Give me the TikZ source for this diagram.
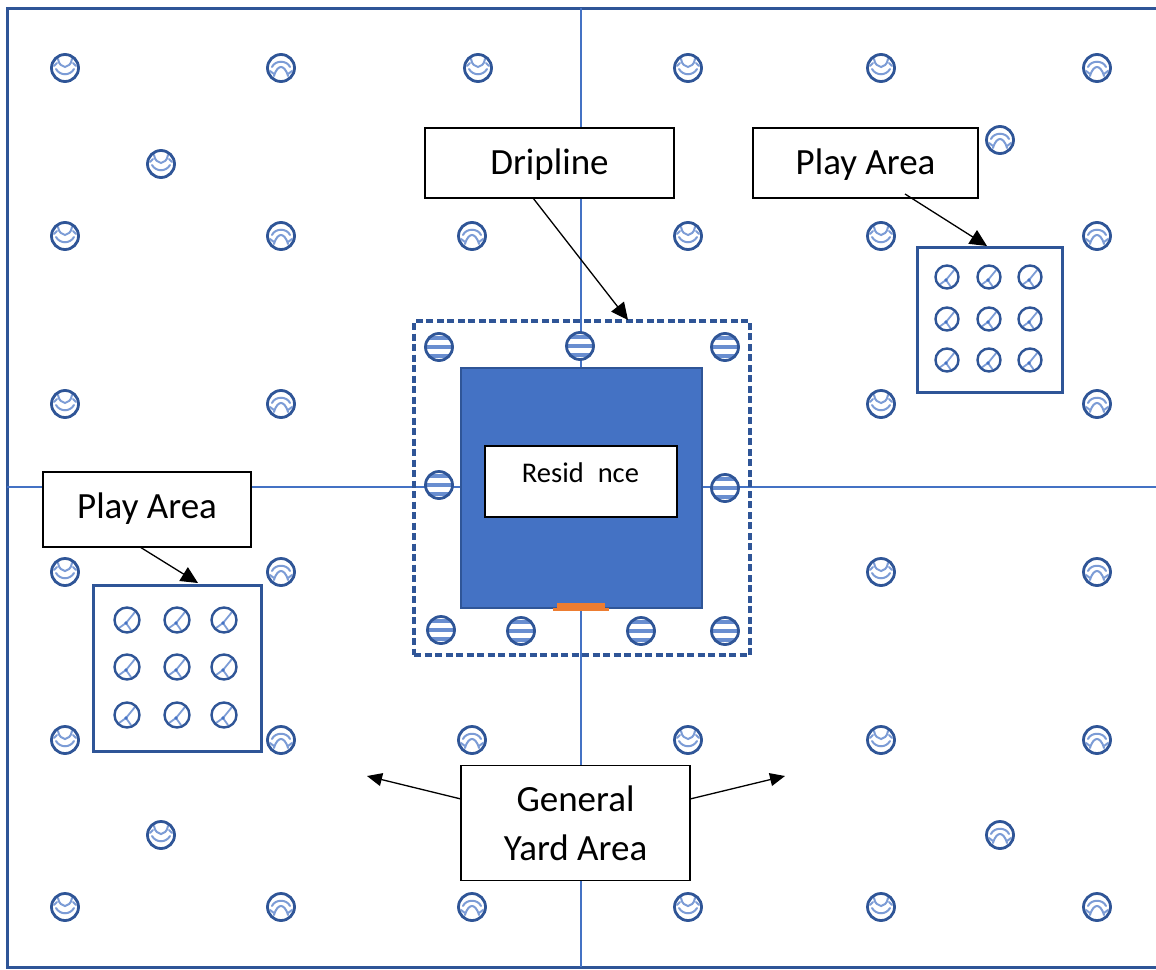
\documentclass[tikz,border=0pt]{standalone}
\usepackage{fontspec}
\setmainfont{Carlito}
\usetikzlibrary{arrows.meta}
\definecolor{darkblue}{HTML}{2F5597}
\definecolor{midblue}{HTML}{4472C4}
\definecolor{doororange}{HTML}{ED7D31}
\tikzset{
  x=1pt,y=-1pt,
  every node/.style={outer sep=0pt},
  treebase/.style={circle,draw=darkblue,line width=2.8pt,fill=white,minimum size=27pt,inner sep=0pt},
  marks/.style={draw=midblue!70,line width=2pt,line cap=round},
  treesmile/.style={treebase,path picture={
    \draw[marks,shift={(path picture bounding box.center)}]
      (-7,-9) .. controls (-6,-3) and (-3,-2) .. (0,-1) .. controls (3,-2) and (6,-3) .. (7,-9)
      (-9,1) .. controls (-5,8) and (5,8) .. (9,1)
      (-11,-2) -- (-8,-5) (11,-2) -- (8,-5);
  }},
  treefrown/.style={treebase,path picture={
    \draw[marks,shift={(path picture bounding box.center)}]
      (-9,-1) .. controls (-6,-8) and (6,-8) .. (9,-1)
      (-7,8) .. controls (-5,1) and (-2,-1) .. (0,-1) .. controls (2,-1) and (5,1) .. (7,8)
      (-11,3) -- (-7,6) (11,3) -- (7,6);
  }},
  treeforked/.style={circle,draw=darkblue,line width=2.4pt,fill=white,minimum size=23pt,inner sep=0pt,path picture={
    \draw[marks,line width=1.8pt,shift={(path picture bounding box.center)}]
      (8,-8) -- (-1,3) -- (-8,8) (-1,3) -- (4,10);
    \fill[midblue,shift={(path picture bounding box.center)}] (-1,3) circle (1.8);
  }},
  treestriped/.style={treebase,path picture={
    \draw[midblue!80,line width=4.6pt,shift={(path picture bounding box.center)}]
      (-14,-9) -- (14,-9) (-14,0) -- (14,0) (-14,9) -- (14,9);
  }},
  labelbox/.style={draw=black,line width=1.8pt,fill=white,text=black,inner sep=0pt,font=\fontsize{37}{49}\selectfont,align=center},
  callout/.style={black,line width=1.3pt,-{Triangle[length=17pt,width=16pt]}},
  yardout/.style={black,line width=1.3pt,-{Triangle[length=15pt,width=13pt]}},
  zone/.style={draw=darkblue,line width=3pt,fill=white}
}
\begin{document}
\begin{tikzpicture}
\clip (0,0) rectangle (1156,969);
\fill[white] (0,0) rectangle (1156,969);
% frame and axes
\node[draw=darkblue,line width=3pt,minimum width=1170pt,minimum height=959pt,inner sep=0pt,anchor=north west] (frame) at (7,8) {};
\coordinate (axisT) at (581,8);
\coordinate (axisB) at (581,967);
\coordinate (axisL) at (7,487);
\coordinate (axisR) at (1156,487);
\draw[midblue,line width=1.6pt] (axisT) -- (axisB);
\draw[midblue,line width=1.6pt] (axisL) -- (axisR);
% general trees
\foreach \x/\y [count=\i] in {65/68,478/68,688/68,881/68,161/164,65/236,688/236,881/236,65/404,881/404,65/572,881/572,65/740,688/740,881/740,161/835,65/907,688/907,881/907}
  \node[treesmile] (smile\i) at (\x,\y) {};
\foreach \x/\y [count=\i] in {281/68,1097/68,1000/140,281/236,472/236,1097/236,281/404,1097/404,281/572,1097/572,281/740,472/740,1097/740,1000/835,281/907,472/907,1097/907}
  \node[treefrown] (frown\i) at (\x,\y) {};
% dripline zone
\node[draw=darkblue,line width=3.2pt,dash pattern=on 7pt off 3.5pt,minimum width=336pt,minimum height=334pt,inner sep=0pt,anchor=north west] (dripzone) at (414,321) {};
\node[draw=darkblue,line width=2.5pt,fill=midblue,minimum width=241pt,minimum height=240pt,inner sep=0pt,anchor=north west] (house) at (461,368) {};
\node[draw=black,line width=1.6pt,fill=white,minimum width=192pt,minimum height=71pt,inner sep=0pt,anchor=north west] (residencebox) at (485,446) {};
\node[text=black,inner sep=0pt,font=\fontsize{28.5}{30}\selectfont] (residence) at (580.5,472.5) {Resid\hspace{14pt}nce};
\fill[doororange] (553,608) rectangle (609,611);
\node[fill=doororange,minimum width=48pt,minimum height=8pt,inner sep=0pt,anchor=north west] (door) at (557,603) {};
\foreach \x/\y [count=\i] in {439/347,580/346,725/347,439/485,725/488,441/630,521/631,641/631,725/631}
  \node[treestriped] (drip\i) at (\x,\y) {};
% play areas
\node[zone,minimum width=145pt,minimum height=145pt,inner sep=0pt,anchor=north west] (playR) at (917,247) {};
\node[zone,minimum width=168pt,minimum height=166pt,inner sep=0pt,anchor=north west] (playL) at (93,585) {};
\foreach \x/\y [count=\i] in {947/277,989/277,1030/277,947/319,989/319,1030/319,947/360,989/360,1030/360}
  \node[treeforked] (pr\i) at (\x,\y) {};
\foreach \x/\y [count=\i] in {127/620,177/620,224/620,127/667,177/667,224/667,127/715,177/715,224/715}
  \node[treeforked,minimum size=25pt] (pl\i) at (\x,\y) {};
% labels
\node[labelbox,line width=2.5pt,minimum width=249pt,minimum height=70pt,text height=29pt,text depth=6pt] (dripline) at (549.5,163) {Dripline};
\node[labelbox,minimum width=225pt,minimum height=70pt,text height=29pt,text depth=6pt] (playlabelR) at (865.5,163) {Play Area};
\node[labelbox,minimum width=208pt,minimum height=75pt,text height=25pt,text depth=7pt] (playlabelL) at (147,509.5) {Play Area};
\node[labelbox,minimum width=229pt,minimum height=115pt] (yard) at (575.5,823) {General\\Yard Area};
% connectors
\coordinate (dripFrom) at (533,198);
\coordinate (dripTo) at (628,320);
\coordinate (playRFrom) at (905,194);
\coordinate (playRTo) at (987,246);
\coordinate (playLFrom) at (140,547);
\coordinate (playLTo) at (198,583);
\coordinate (yardFromL) at (461,799);
\coordinate (yardToL) at (367,776);
\coordinate (yardFromR) at (690,799);
\coordinate (yardToR) at (785,776);
\draw[callout] (dripFrom) -- (dripTo);
\draw[callout] (playRFrom) -- (playRTo);
\draw[callout] (playLFrom) -- (playLTo);
\draw[yardout] (yardFromL) -- (yardToL);
\draw[yardout] (yardFromR) -- (yardToR);
\end{tikzpicture}
\end{document}
